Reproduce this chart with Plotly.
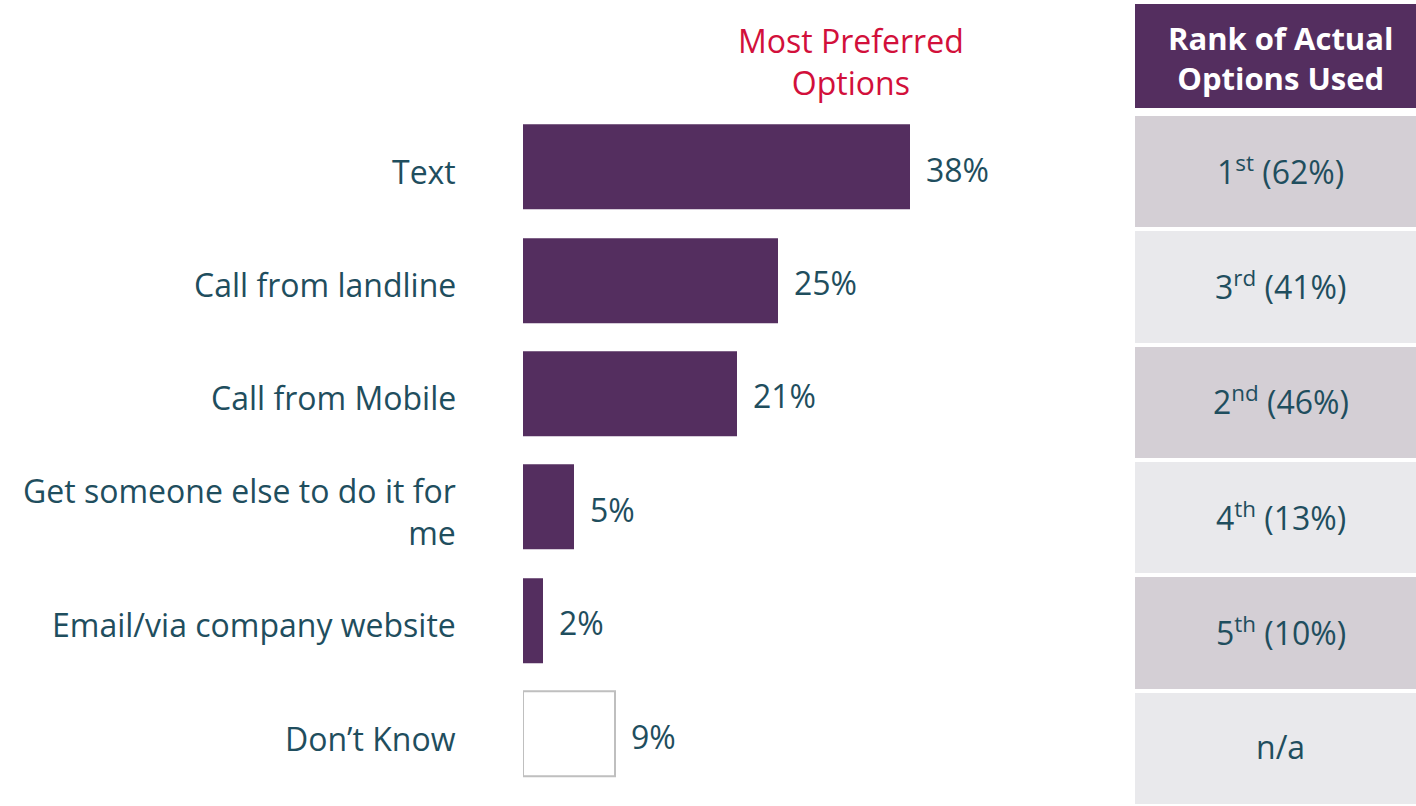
import plotly.graph_objects as go

# Survey results: most preferred contact options
options = ["Text", "Call from landline", "Call from Mobile",
           "Get someone else to do it for<br>me", "Email/via company website", "Don’t Know"]
preferred_pct = [38, 25, 21, 5, 2, 9]

# Rank of the options actually used
actual_rank = ["1<sup>st</sup> (62%)", "3<sup>rd</sup> (41%)", "2<sup>nd</sup> (46%)",
               "4<sup>th</sup> (13%)", "5<sup>th</sup> (10%)", "n/a"]

PURPLE = "#542E5F"
TEAL = "#1F4E5E"
RED = "#D2103B"
ROW_DARK = "#D4CFD5"
ROW_LIGHT = "#E9E9EC"
FONT = "Open Sans"
FS = 32

W, H = 1416, 806

fig = go.Figure()

# Main bars (last category shown as an outlined empty box)
bar_colors = [PURPLE] * (len(options) - 1) + ["white"]
line_colors = [PURPLE] * (len(options) - 1) + ["#BFBFBF"]
line_widths = [0] * (len(options) - 1) + [2]
fig.add_trace(go.Bar(
    x=preferred_pct, y=options, orientation="h",
    marker=dict(color=bar_colors, line=dict(color=line_colors, width=line_widths)),
    width=0.75, xaxis="x", yaxis="y", hoverinfo="skip",
))

# Table rows beside the chart
row_colors = [ROW_DARK if i % 2 == 0 else ROW_LIGHT for i in range(len(actual_rank))]
fig.add_trace(go.Bar(
    x=[1] * len(actual_rank), y=list(range(len(actual_rank))), orientation="h",
    marker=dict(color=row_colors, line=dict(width=0)),
    width=0.965, xaxis="x2", yaxis="y2", hoverinfo="skip",
))

annotations = []
# Category labels
for opt in options:
    annotations.append(dict(
        x=458 / W, xref="paper", y=opt, yref="y", text=opt, showarrow=False,
        xanchor="right", align="right", yanchor="middle",
        font=dict(family=FONT, size=FS, color=TEAL), yshift=-4,
    ))
# Value labels
for opt, v in zip(options, preferred_pct):
    annotations.append(dict(
        x=v, xref="x", y=opt, yref="y", text=f"{v}%", showarrow=False,
        xanchor="left", yanchor="middle", xshift=14, yshift=-2,
        font=dict(family=FONT, size=FS, color=TEAL),
    ))
# Table cell text
for i, r in enumerate(actual_rank):
    annotations.append(dict(
        x=0.5, xref="x2", y=i, yref="y2", text=r, showarrow=False,
        xanchor="center", yanchor="middle", yshift=2, xshift=5,
        font=dict(family=FONT, size=FS, color=TEAL),
    ))
# Column headings
annotations.append(dict(
    x=851 / W, xref="paper", y=1 - 62 / H, yref="paper",
    text="Most Preferred<br>Options", showarrow=False, align="center",
    xanchor="center", yanchor="middle",
    font=dict(family=FONT, size=FS, color=RED),
))
annotations.append(dict(
    x=(1135 + W) / 2 / W, xref="paper", y=1 - 58 / H, yref="paper",
    text="<b>Rank of Actual<br>Options Used</b>", showarrow=False, align="center",
    xanchor="center", yanchor="middle", xshift=5,
    font=dict(family=FONT, size=31, color="white"),
))

table_left = 1135 / W
fig.update_layout(
    width=W, height=H,
    margin=dict(l=0, r=0, t=0, b=0),
    paper_bgcolor="white", plot_bgcolor="rgba(0,0,0,0)",
    showlegend=False,
    bargap=0,
    xaxis=dict(domain=[523 / W, table_left], range=[0, (1135 - 523) / 10.18],
               visible=False, fixedrange=True),
    yaxis=dict(domain=[1 - 790.7 / H, 1 - 110.3 / H], range=[5.5, -0.5],
               type="category", visible=False, fixedrange=True),
    xaxis2=dict(domain=[table_left, 1], range=[0, 1], visible=False, fixedrange=True),
    yaxis2=dict(domain=[0, 1 - 114 / H], range=[5.5, -0.5], visible=False, fixedrange=True),
    shapes=[dict(type="rect", xref="x2 domain", yref="paper",
                 x0=0, x1=1, y0=1 - 108 / H, y1=1 - 4 / H,
                 fillcolor=PURPLE, line=dict(width=0), layer="below")],
    annotations=annotations,
)

fig.write_html("out.html")
